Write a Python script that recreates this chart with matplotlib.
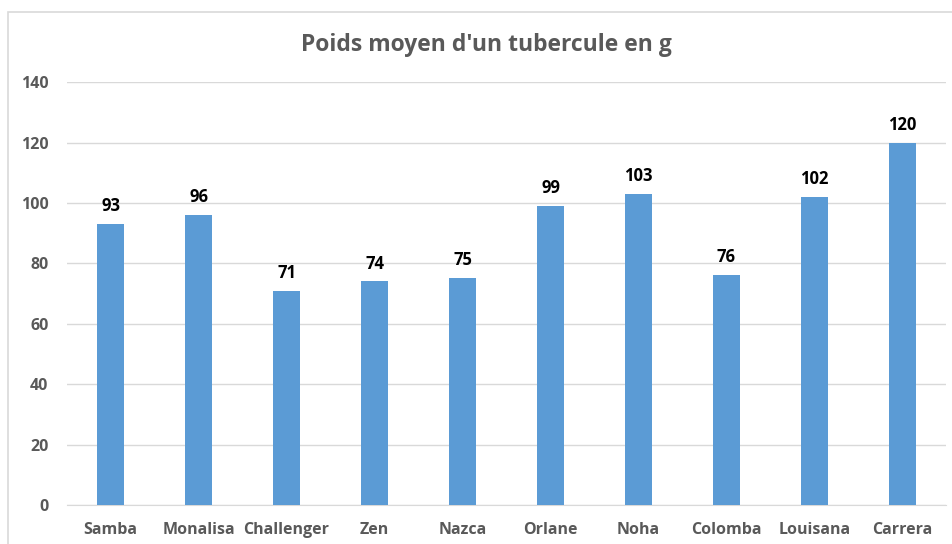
import matplotlib
matplotlib.use("Agg")
import matplotlib.pyplot as plt
from matplotlib.patches import Rectangle

varietes = ["Samba", "Monalisa", "Challenger", "Zen", "Nazca",
            "Orlane", "Noha", "Colomba", "Louisana", "Carrera"]
poids = [93, 96, 71, 74, 75, 99, 103, 76, 102, 120]
yticks = [0, 20, 40, 60, 80, 100, 120, 140]

plt.rcParams["font.family"] = ["Open Sans", "DejaVu Sans"]

fig = plt.figure(figsize=(9.52, 5.44), dpi=100)
ax = fig.add_axes([0.0699, 0.0717, 0.9243, 0.7773])

# chart border (cut off at right and bottom like the screenshot)
fig.patches.append(Rectangle((8 / 952, -0.05), 1.0, 1 - 12 / 544 + 0.05,
                             transform=fig.transFigure, fill=False,
                             edgecolor="#D9D9D9", linewidth=1.2))

x = range(len(varietes))
bars = ax.bar(x, poids, width=0.31, color="#5B9BD5", zorder=3)
for xi, v in zip(x, poids):
    ax.text(xi, v + 4.3, str(v), ha="center", va="baseline",
            fontsize=12, fontweight="bold", color="black")

ax.set_xlim(-0.5, len(varietes) - 0.5)
ax.set_ylim(0, 140)
ax.set_yticks(yticks)
ax.set_xticks(list(x))
ax.set_xticklabels(varietes)
ax.grid(axis="y", color="#D9D9D9", linewidth=1.0, zorder=0)
for s in ["top", "right", "left"]:
    ax.spines[s].set_visible(False)
ax.spines["bottom"].set_color("#D9D9D9")
ax.tick_params(axis="both", length=0, colors="#595959", labelsize=11.5)
ax.tick_params(axis="y", pad=13)
ax.tick_params(axis="x", pad=12)
for lab in ax.get_xticklabels() + ax.get_yticklabels():
    lab.set_fontweight("bold")

fig.text(486 / 952, 1 - 45 / 544, "Poids moyen d'un tubercule en g", ha="center",
         va="center", fontsize=16.5, fontweight="bold", color="#595959")

fig.savefig("out.png")
